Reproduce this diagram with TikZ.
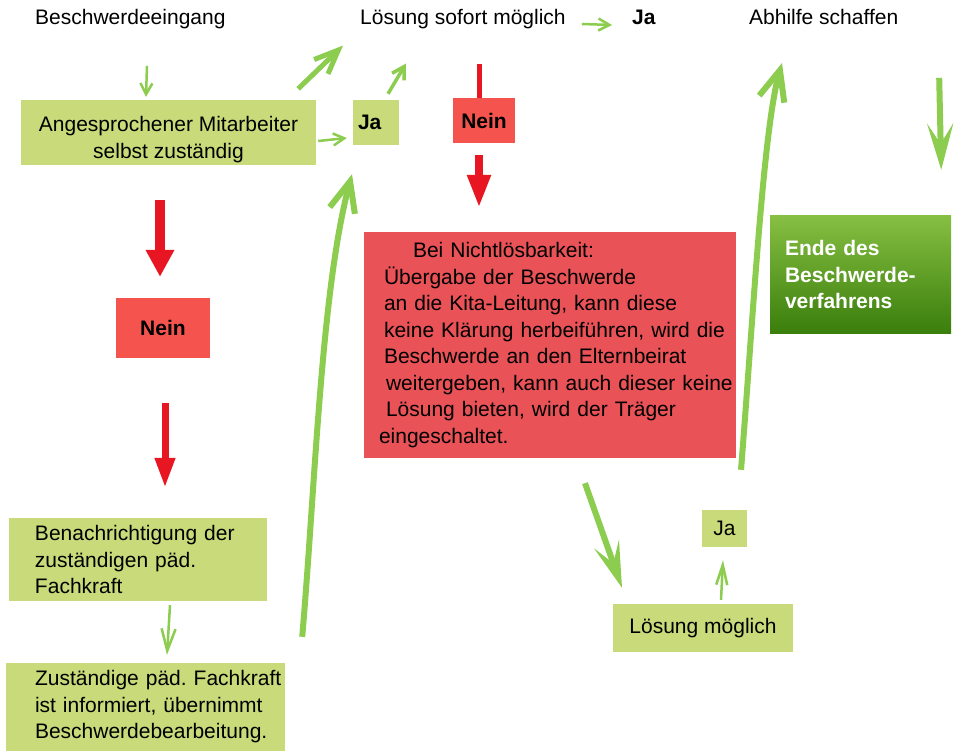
\documentclass[tikz,border=0pt]{standalone}
\usepackage{fontspec}
\setmainfont{Liberation Sans}
\usepackage{tikz}
\usetikzlibrary{arrows.meta}
\definecolor{hellgruen}{RGB}{200,218,121}
\definecolor{pfeilgruen}{RGB}{140,204,78}
\definecolor{pfeilrot}{RGB}{232,22,34}
\definecolor{neinrot}{RGB}{245,84,78}
\definecolor{kastenrot}{RGB}{233,82,86}
\definecolor{endeoben}{RGB}{134,191,66}
\definecolor{endemitte}{RGB}{86,150,36}
\definecolor{endeunten}{RGB}{58,126,12}

\begin{document}
\begin{tikzpicture}[x=1pt,y=-1pt,
  every node/.style={font=\fontsize{21}{26.5}\selectfont},
  fett/.style={font=\fontsize{21}{26.5}\selectfont\bfseries},
  txt/.style={inner sep=0pt,anchor=base west},
  kasten/.style={fill=hellgruen,inner sep=0pt},
  nein/.style={fill=neinrot,inner sep=0pt,fett},
  textindent/.style={align=left,execute at begin node={\leftskip=#1pt\rightskip=-30pt plus 1fil}},
  gduenn/.style={pfeilgruen,line width=2.5pt,-{Straight Barb[length=11pt,width=12pt]}},
  gmittel/.style={pfeilgruen,line width=3.5pt,-{Straight Barb[length=12pt,width=14pt]}},
  gdick/.style={pfeilgruen,line width=5pt,-{Straight Barb[length=24pt,width=20pt]}},
  glang/.style={pfeilgruen,line width=6pt,-{Straight Barb[length=30pt,width=26pt]}},
  gspitz/.style={pfeilgruen,line width=6pt,-{Stealth[length=46pt,width=26pt,inset=20pt]}},
  rpfeil/.style={pfeilrot,line width=#1pt},
]
  \path[use as bounding box,fill=white] (0,0) rectangle (960,751);

  \node[txt] (eingang) at (35,25) {Beschwerdeeingang};
  \node[txt] (loesung) at (360,25) {Lösung sofort möglich};
  \node[txt,fett] (jaoben) at (632,25) {Ja};
  \node[txt] (abhilfe) at (749,25) {Abhilfe schaffen};

  \node[kasten,minimum width=295pt,minimum height=65pt,align=center,text height=56pt]
    (mitarbeiter) at (168.5,132.5) {Angesprochener Mitarbeiter\\selbst zuständig};
  \node[kasten,fett,text width=36pt,inner xsep=5pt,minimum height=45pt,align=left]
    (ja) at (376,122.5) {Ja};
  \node[nein,minimum width=62pt,minimum height=45pt] (neinoben) at (484,120.5) {Nein};
  \node[nein,minimum width=94pt,minimum height=60pt] (neinlinks) at (163,328) {Nein};
  \node[fill=kastenrot,inner sep=0pt,text width=372pt,minimum height=226pt,textindent=20]
    (nichtloesbar) at (550,345)
    {\hspace*{29pt}Bei Nichtlösbarkeit:\\
     Übergabe der Beschwerde\\
     an die Kita-Leitung, kann diese\\
     keine Klärung herbeiführen, wird die\\
     Beschwerde an den Elternbeirat\\
     \hspace*{2pt}weitergeben, kann auch dieser keine\\
     \hspace*{2pt}Lösung bieten, wird der Träger\\
     \hspace*{-5pt}eingeschaltet.};
  \node[top color=endeoben,middle color=endemitte,bottom color=endeunten,text=white,fett,
        inner xsep=15pt,inner ysep=0pt,text width=151pt,minimum height=117pt,align=left]
    (ende) at (860.5,274.5) {Ende des\\Beschwerde-\\verfahrens};
  \node[kasten,text width=258pt,minimum height=83pt,textindent=26]
    (benachrichtigung) at (138,559.5) {Benachrichtigung der\\zuständigen päd.\\Fachkraft};
  \node[kasten,text width=279pt,minimum height=88pt,textindent=29]
    (fachkraft) at (145.5,707) {Zuständige päd.\ Fachkraft\\ist informiert, übernimmt\\Beschwerdebearbeitung.};
  \node[kasten,minimum width=45pt,minimum height=37pt] (ja2) at (724.5,528.5) {Ja};
  \node[kasten,minimum width=180pt,minimum height=48pt] (loesungmoeglich) at (703,628) {Lösung möglich};

  \draw[gduenn]
    ([shift={(-21.5,-34)}]mitarbeiter.north)
    --
    ([shift={(-22.5,-3)}]mitarbeiter.north);
  \draw[gdick]
    ([shift={(-18,-11)}]mitarbeiter.north east)
    --
    ([shift={(-17,16)}]loesung.south west);
  \draw[gduenn]
    ([shift={(2,8.5)}]mitarbeiter.east)
    --
    ([shift={(-6,15.5)}]ja.west);
  \draw[gmittel]
    ([shift={(12,-6)}]ja.north)
    --
    ([shift={(46,34)}]loesung.south west);
  \draw[gduenn]
    ([shift={(16,-1)}]loesung.base east)
    --
    ([shift={(-20,0)}]jaoben.base west);
  \draw[rpfeil=5]
    ([shift={(-5,-34)}]neinoben.north)
    --
    ([xshift=-5pt]neinoben.north);
  \draw[rpfeil=8,-{Triangle[length=33pt,width=22pt]}]
    ([shift={(-5,12)}]neinoben.south)
    --
    ([shift={(-71,-24)}]nichtloesbar.north);
  \draw[rpfeil=10,-{Triangle[length=27pt,width=27pt]}]
    ([shift={(-8.5,35)}]mitarbeiter.south)
    --
    ([shift={(-3,-21)}]neinlinks.north);
  \draw[rpfeil=7,-{Triangle[length=30pt,width=19pt]}]
    ([shift={(2,45)}]neinlinks.south)
    --
    ([shift={(27,-30)}]benachrichtigung.north);
  \draw[gduenn,-{Straight Barb[length=22pt,width=14pt]}]
    ([shift={(32,4)}]benachrichtigung.south)
    --
    ([shift={(21.5,-8)}]fachkraft.north);
  \draw[glang]
    ([shift={(17,-26)}]fachkraft.north east)
    .. controls +(13,-150) and +(-31,116) ..
    ([shift={(-24,29)}]ja.south);
  \draw[gspitz]
    ([shift={(35,25)}]nichtloesbar.south)
    --
    ([shift={(-81,-16)}]loesungmoeglich.north);
  \draw[gduenn,-{Straight Barb[length=20pt,width=11pt]}]
    ([shift={(18,-4)}]loesungmoeglich.north)
    --
    ([shift={(-1.5,13)}]ja2.south);
  \draw[glang]
    ([shift={(16.5,-40)}]ja2.north)
    .. controls +(12,-150) and +(-19,67) ..
    ([shift={(33,38)}]abhilfe.base west);
  \draw[gspitz]
    ([shift={(-12,-138)}]ende.north east)
    --
    ([shift={(-10,-46)}]ende.north east);
\end{tikzpicture}
\end{document}
